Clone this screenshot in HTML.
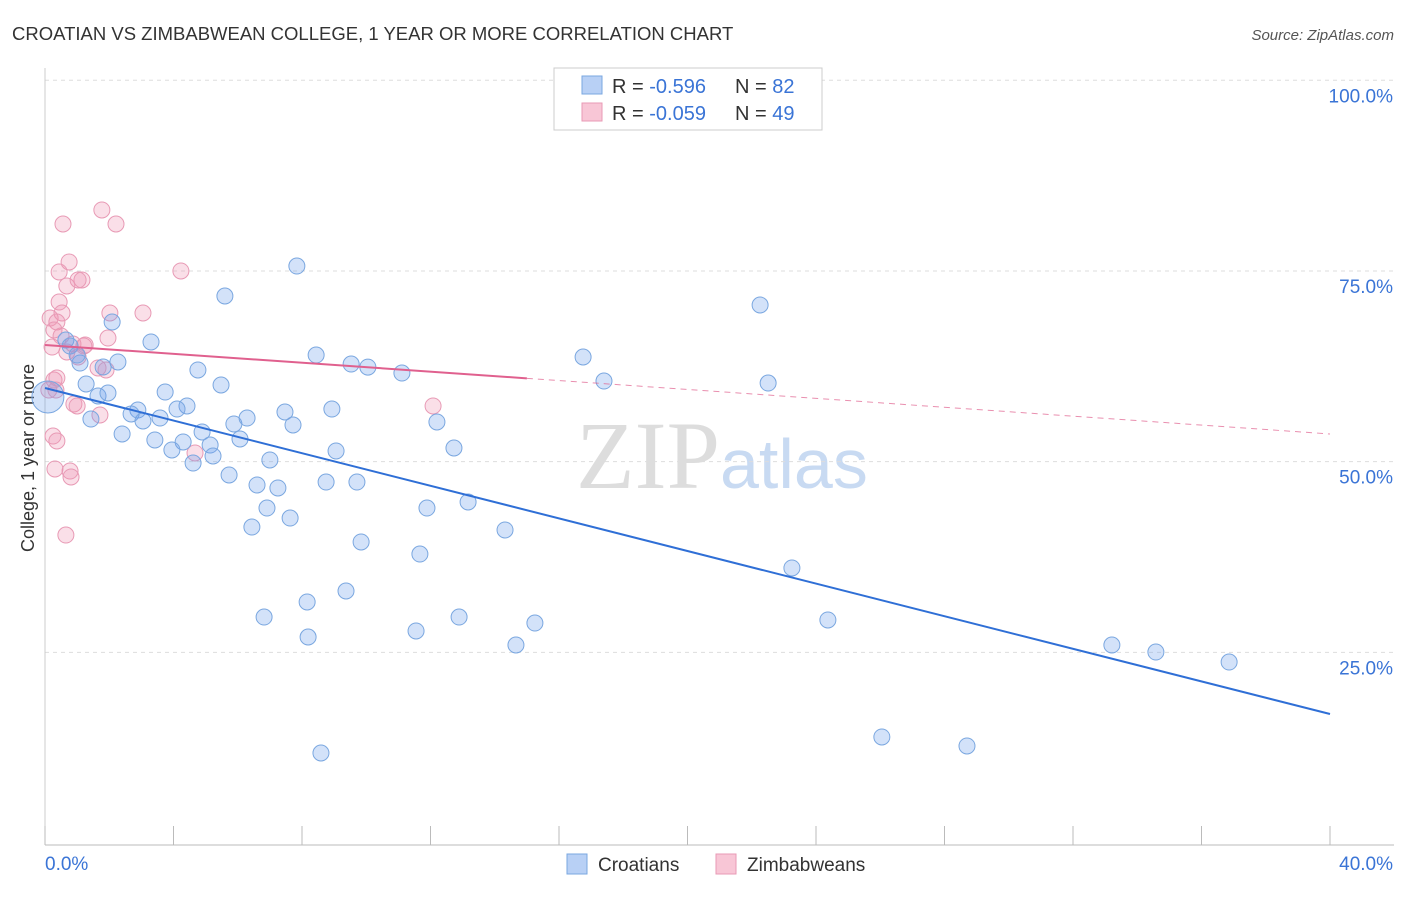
<!DOCTYPE html>
<html><head><meta charset="utf-8"><style>
body{margin:0;background:#fff;font-family:"Liberation Sans",sans-serif;}
#c{position:relative;width:1406px;height:892px;}
</style></head><body>
<div id="c">
<svg id="s" width="1406" height="892" xmlns="http://www.w3.org/2000/svg">
<text x="12" y="40" font-size="18.5" fill="#333">CROATIAN VS ZIMBABWEAN COLLEGE, 1 YEAR OR MORE CORRELATION CHART</text>
<text x="1394" y="40" font-size="15" fill="#555" font-style="italic" text-anchor="end">Source: ZipAtlas.com</text>
<text x="720" y="488" font-size="96" font-family="Liberation Serif,serif" fill="#ddd" text-anchor="end">ZIP</text>
<text x="720" y="488" font-size="70" fill="#c8daf2">atlas</text>
<text x="34" y="458" font-size="18" fill="#333" transform="rotate(-90 34 458)" text-anchor="middle">College, 1 year or more</text>
<g id="grid"></g><g id="pts"></g><g id="trend"></g>
<rect x="554" y="68" width="268" height="62" fill="#fff" stroke="#ccc"/>
<rect x="582" y="76" width="20" height="18" fill="#b8d0f5" stroke="#7aa7e0"/>
<rect x="582" y="103" width="20" height="18" fill="#f8c6d6" stroke="#e89ab5"/>
<text x="612" y="93" font-size="20" fill="#333">R = <tspan fill="#3a74d6">-0.596</tspan></text>
<text x="735" y="93" font-size="20" fill="#333">N = <tspan fill="#3a74d6">82</tspan></text>
<text x="612" y="120" font-size="20" fill="#333">R = <tspan fill="#3a74d6">-0.059</tspan></text>
<text x="735" y="120" font-size="20" fill="#333">N = <tspan fill="#3a74d6">49</tspan></text>
<rect x="567" y="854" width="20" height="20" fill="#b8d0f5" stroke="#7aa7e0"/>
<text x="598" y="871" font-size="19" fill="#333">Croatians</text>
<rect x="716" y="854" width="20" height="20" fill="#f8c6d6" stroke="#e89ab5"/>
<text x="747" y="871" font-size="19" fill="#333">Zimbabweans</text>
</svg></div>
<script>
const xTicks=[0,4,8,12,16,20,24,28,32,36,40];
const yTicks=[25,50,75,100];
const yTickLabels=["25.0%","50.0%","75.0%","100.0%"];
const xEndLabels=["0.0%","40.0%"];
const blueX=[7.84,5.60,22.26,2.09,3.30,16.75,8.44,9.53,10.05,11.11,17.40,22.51,2.27,1.81,1.09,1.28,1.65,1.96,3.74,4.76,5.48,4.42,4.11,2.89,2.68,3.05,3.58,1.43,2.40,3.42,4.30,3.95,4.89,5.14,5.23,4.61,5.88,6.29,6.07,7.47,7.72,8.93,12.20,12.73,9.06,5.73,7.00,6.60,7.25,6.91,7.63,8.75,9.71,11.89,13.17,14.32,9.84,11.67,6.44,8.16,9.37,6.82,8.19,11.55,12.89,15.25,14.66,23.25,24.37,33.21,34.58,36.86,26.05,28.70,8.59,0.65,0.78,1.00];
const blueY=[75.65,71.72,70.54,68.31,65.69,63.72,63.98,62.80,62.40,61.62,60.57,60.31,63.07,62.41,62.93,60.18,58.61,59.00,59.13,62.02,60.05,57.30,56.90,56.77,56.25,55.33,55.72,55.59,53.63,52.84,52.58,51.53,53.89,52.18,50.74,49.82,54.94,55.72,52.97,56.51,54.81,56.90,55.20,51.79,51.40,48.25,50.22,46.94,46.55,43.92,42.61,47.33,47.33,43.92,44.71,41.04,39.47,37.89,41.43,31.60,33.04,29.63,27.01,27.80,29.63,28.84,25.96,36.06,29.24,25.96,25.04,23.73,13.90,12.72,11.80,65.95,65.16,63.98];
const pinkX=[0.56,1.77,2.21,0.75,0.44,4.23,1.15,0.68,0.44,2.02,3.05,0.53,0.16,0.37,0.28,0.50,0.87,1.21,1.96,0.22,0.68,1.65,1.90,1.03,0.28,0.37,0.90,1.00,1.71,12.08,0.25,0.37,0.78,0.81,0.31,0.65,0.12,0.34,4.67,1.03,1.25];
const pinkY=[81.16,83.00,81.16,76.18,74.87,75.00,73.82,73.03,70.93,69.49,69.49,69.49,68.83,68.31,67.26,66.47,65.43,65.16,66.21,65.03,64.38,62.28,62.02,63.72,60.70,60.97,57.56,57.30,56.12,57.30,53.36,52.71,48.77,47.99,49.04,40.38,59.39,59.39,51.14,73.82,65.29];
const bigBlue=[0.09,58.48];
const blueTrend=[59.66,16.91];
const pinkTrend=[65.3,53.63];
const pinkSolidEnd=15.0;
const X=v=>45+v*32.125, Y=v=>843-v*7.627;
const NS="http://www.w3.org/2000/svg";
function mk(p,tag,a){const e=document.createElementNS(NS,tag);for(const k in a)e.setAttribute(k,a[k]);p.appendChild(e);return e;}
const s=document.getElementById('s'),g=document.getElementById('grid'),pts=document.getElementById('pts'),tr=document.getElementById('trend');
yTicks.forEach((t,i)=>{
 const l=mk(g,'line',{x1:45,x2:1394,y1:Y(t),y2:Y(t),stroke:'#ddd','stroke-dasharray':'4,4'});
 
 
 const tx=mk(g,'text',{x:1393,y:Y(t)+22,'font-size':19,fill:'#3a74d6','text-anchor':'end'});tx.textContent=yTickLabels[i];
 
 
});
const ax=mk(g,'line',{x1:45,x2:1394,y1:845,y2:845,stroke:'#bbb'});


const ay=mk(g,'line',{x1:45,x2:45,y1:68,y2:845,stroke:'#ccc'});


xTicks.forEach(t=>{const l=mk(g,'line',{x1:X(t),x2:X(t),y1:826,y2:845,stroke:'#bbb'});
 
 });
[[0,'start',45],[40,'end',1393]].forEach((d,i)=>{const tx=mk(g,'text',{x:d[2],y:870,'font-size':19,fill:'#3a74d6','text-anchor':d[1]});tx.textContent=xEndLabels[i];
 
 });
pinkX.forEach((x,i)=>{const c=mk(pts,'circle',{cx:X(x),cy:Y(pinkY[i]),r:8,fill:'rgba(240,150,180,0.3)',stroke:'#e89ab5','stroke-width':1});
 
 });
blueX.forEach((x,i)=>{const c=mk(pts,'circle',{cx:X(x),cy:Y(blueY[i]),r:8,fill:'rgba(110,160,235,0.3)',stroke:'#7aa7e0','stroke-width':1});
 
 });
const bb=mk(pts,'circle',{cx:X(bigBlue[0]),cy:Y(bigBlue[1]),r:16,fill:'rgba(110,160,235,0.3)',stroke:'#7aa7e0'});


const bl=mk(tr,'line',{x1:X(0),y1:Y(blueTrend[0]),x2:X(40),y2:Y(blueTrend[1]),stroke:'#2f6fd6','stroke-width':2});


const pm=v=>pinkTrend[0]+(pinkTrend[1]-pinkTrend[0])*v/40;
const pl=mk(tr,'line',{x1:X(0),y1:Y(pinkTrend[0]),x2:X(pinkSolidEnd),y2:Y(pm(pinkSolidEnd)),stroke:'#e0608e','stroke-width':2});


const pd=mk(tr,'line',{x1:X(pinkSolidEnd),y1:Y(pm(pinkSolidEnd)),x2:X(40),y2:Y(pinkTrend[1]),stroke:'#e0608e','stroke-width':1,'stroke-dasharray':'6,5',opacity:0.7});


</script>
</body></html>
